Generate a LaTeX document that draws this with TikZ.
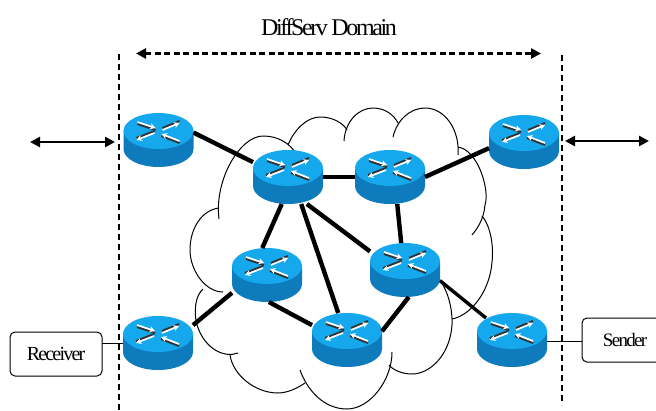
\documentclass[tikz,border=0pt]{standalone}
\usepackage{fontspec}
\setmainfont{Liberation Serif}
\usetikzlibrary{arrows.meta}
\tikzset{
	every node/.style={inner sep=0,outer sep=0},
	routerbox/.style={minimum width=70pt,minimum height=54pt},
	endpoint/.style={draw,rounded corners=5pt,line width=1pt},
	cloudline/.style={line width=1pt},
	link/.style={line width=4.4pt},
	thinlink/.style={line width=1pt},
	border/.style={line width=2pt,dash pattern=on 6pt off 4pt},
	span/.style={line width=2.6pt,{Triangle[length=10pt,width=10pt]}-{Triangle[length=10pt,width=10pt]}},
	crossarrow/.style={line width=1.7pt,draw=white,-{Stealth[length=5.5pt,width=6pt]}},
	crossshade/.style={line width=2pt,draw=black!80},
}
\definecolor{routertop}{RGB}{22,168,236}
\definecolor{routerside}{RGB}{14,124,188}
\begin{document}
\begin{tikzpicture}[x=1pt,y=-1pt]
	\useasboundingbox (0,0) rectangle (656,410);
	% cloud
	\draw[cloudline] (219,219) .. controls (214,180) and (240,136) .. (263,136) .. controls (278,136) and (290,143) .. (297,155);
	\draw[cloudline] (288,145) .. controls (295,128) and (308,117) .. (320,117) .. controls (333,117) and (343,123) .. (347,130);
	\draw[cloudline] (344,141) .. controls (345,122) and (358,108) .. (373,108) .. controls (385,108) and (394,115) .. (398,123);
	\draw[cloudline] (393,137) .. controls (397,120) and (410,108) .. (425,108) .. controls (445,108) and (460,130) .. (458,155);
	\draw[cloudline] (458,147) .. controls (478,150) and (490,190) .. (485,205) .. controls (484,218) and (478,228) .. (472,235);
	\draw[cloudline] (482,216) .. controls (490,225) and (494,245) .. (492,262) .. controls (490,290) and (472,315) .. (452,319);
	\draw[cloudline] (430,270) .. controls (445,280) and (453,305) .. (452,325) .. controls (450,355) and (430,374) .. (412,374) .. controls (402,374) and (393,370) .. (389,365);
	\draw[cloudline] (392,352) .. controls (392,380) and (370,409) .. (347,409) .. controls (325,409) and (308,392) .. (300,370);
	\draw[cloudline] (305,383) .. controls (295,390) and (285,393) .. (278,393) .. controls (255,393) and (233,375) .. (230,355);
	\draw[cloudline] (238,353) .. controls (225,358) and (205,350) .. (197,325) .. controls (193,310) and (196,295) .. (203,289);
	\draw[cloudline] (223,292) .. controls (205,292) and (190,270) .. (190,250) .. controls (190,228) and (202,210) .. (219,208);
	% routers
	\foreach \name/\pos in {r1/{158.5,140},r2/{288,177},r3/{390,177},r4/{524,142},r5/{267,275},
		r6/{405,270},r7/{347,340},r8/{512,340},r9/{158,343}}{
		\node[routerbox] (\name) at (\pos) {};
		\begin{scope}[shift={(\name.center)}]
		\fill[routerside] (-35,-9) -- (-35,9) arc[start angle=180,end angle=360,x radius=35,y radius=-18] -- (35,-9) -- cycle;
		\fill[routertop] (0,-9) ellipse[x radius=35,y radius=18];
		\draw[crossshade] (-21,-16) -- (-3,-10);
		\draw[crossshade] (21,-19) -- (4,-12);
		\draw[crossshade] (-22,-2) -- (-4,-9);
		\draw[crossshade] (21,3) -- (3,-4);
		\draw[crossarrow] (-21,-18) -- (-3,-12);
		\draw[crossarrow] (4,-10) -- (21,-17);
		\draw[crossarrow] (-4,-7) -- (-22,0);
		\draw[crossarrow] (21,1) -- (3,-6);
		\end{scope}
	}
	% links
	\draw[link] (r1.12) -- (r2.157);
	\draw[link] (r2.east) -- (r3.west);
	\draw[link] (r3.east) -- (r4.190);
	\draw[link] (r2.257) -- (r5.100);
	\draw[link] (r2.-64) -- (r7.108);
	\draw[link] (r2.-55) -- (r6.152);
	\draw[link] (r3.-75) -- (r6.98);
	\draw[link] (r5.-86) -- (r7.157);
	\draw[link] (r5.207) -- (r9.27);
	\draw[link] (r6.-82) -- (r7.14);
	\draw[link,line width=3.4pt,shorten >=-8pt] (r6.-17) -- (r8.140);
	% domain
	\coordinate (ltop) at (118.5,54);
	\coordinate (lbot) at (118.5,410);
	\coordinate (rtop) at (561.5,55);
	\coordinate (rbot) at (561.5,405);
	\draw[border] (ltop) -- (lbot);
	\draw[border] (rtop) -- (rbot);
	\coordinate (dl) at (136,53.5);
	\coordinate (dr) at (541,53.5);
	\draw[span,dash pattern=on 6pt off 3.5pt] (dl) -- (dr);
	\node (title) at (329,27) {\fontsize{24}{24}\selectfont\addfontfeature{LetterSpace=-10}DiffServ Domain};
	\coordinate (la) at (30,142);
	\coordinate (lb) at (115,142);
	\coordinate (ra) at (565,141);
	\coordinate (rb) at (649,141);
	\draw[span] (la) -- (lb);
	\draw[span] (ra) -- (rb);
	% end systems
	\node[endpoint,minimum width=92pt,minimum height=44pt] (receiver) at (56,354) {\fontsize{20}{20}\selectfont\addfontfeature{LetterSpace=-9}Receiver};
	\node[endpoint,minimum width=86pt,minimum height=44pt] (sender) at (625,340) {\fontsize{19}{19}\selectfont\addfontfeature{LetterSpace=-9}Sender};
	\draw[thinlink] (receiver.east |- r9) -- (r9.west);
	\draw[thinlink] (r8.east) ++(0,1.5) -- (sender.west |- 0,341.5);
\end{tikzpicture}
\end{document}
